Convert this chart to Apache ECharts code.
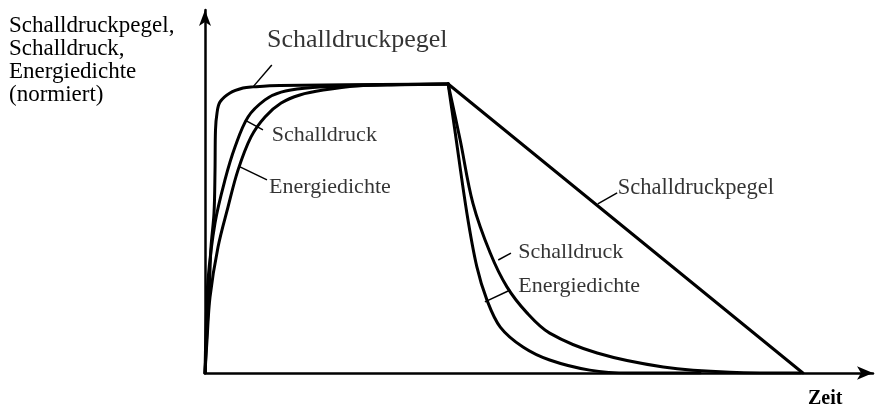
<!DOCTYPE html>
<html>
<head>
<meta charset="utf-8" />
<title>Schalldruck</title>
<script src="https://cdn.jsdelivr.net/npm/echarts@6/dist/echarts.min.js"></script>
<style>
	html, body { margin: 0; padding: 0; background: #fff; }
	#chart { width: 875px; height: 408px; }
</style>
</head>
<body>
<div id="chart"></div>
<script type="text/javascript">
	// Zeit (normiert, 0..100) und Pegel/Druck/Energiedichte (normiert, Plateau = 1)
	var pegelAnstieg = [[0,0],[0.3,0.149],[0.6,0.263],[0.9,0.436],[1.35,0.554],[1.5,0.702],[1.57,0.841],[1.8,0.9],[2.25,0.938],[3.74,0.969],[5.69,0.986],[7.19,0.99],[11.2,0.995],[36.4,1]];
	var druckAnstieg = [[0,0],[0.15,0.149],[0.45,0.322],[1.5,0.519],[2.99,0.668],[4.49,0.782],[6.44,0.886],[8.98,0.945],[11.4,0.972],[15.3,0.986],[20.2,0.993],[26.2,0.997],[36.4,1]];
	var energieAnstieg = [[0,0],[0.3,0.114],[0.75,0.263],[1.95,0.436],[3.44,0.574],[4.94,0.702],[6.89,0.817],[8.98,0.886],[11.4,0.934],[14.2,0.962],[17.7,0.979],[22.8,0.993],[29.2,0.997],[36.4,1]];

	var pegelAbfall = [[36.4,1],[89.5,0]];
	var druckAbfall = [[36.4,1],[38.2,0.806],[40.1,0.588],[42.7,0.415],[45.2,0.298],[48.2,0.208],[51.6,0.138],[58.7,0.069],[68.6,0.021],[78.6,0.003],[89.1,0]];
	var energieAbfall = [[36.4,1],[37.4,0.841],[39.2,0.554],[40.7,0.367],[42.2,0.253],[44.2,0.159],[47.6,0.09],[51.6,0.045],[57.6,0.01],[63.6,0],[74.1,0]];

	// Beschriftungen: Text, Punkt auf der Kurve, Ende der Hinweislinie, Textanfang
	var beschriftungen = [
		{text: 'Schalldruckpegel', kurve: [7.19,0.99], ende: [10.0,1.066], pos: [9.28,1.152], size: 26},
		{text: 'Schalldruck', kurve: [5.99,0.875], ende: [8.68,0.841], pos: [10.0,0.824], size: 22},
		{text: 'Energiedichte', kurve: [5.24,0.713], ende: [9.28,0.668], pos: [9.58,0.644], size: 22},
		{text: 'Schalldruckpegel', kurve: [58.8,0.585], ende: [61.7,0.623], pos: [61.8,0.64], size: 22.5},
		{text: 'Schalldruck', kurve: [43.9,0.391], ende: [45.8,0.415], pos: [46.9,0.419], size: 22},
		{text: 'Energiedichte', kurve: [41.9,0.246], ende: [45.7,0.287], pos: [46.9,0.301], size: 22}
	];

	var serif = '"Liberation Serif", "DejaVu Serif", serif';

	$chart();

	function $chart(){
		var myChart = echarts.init(document.getElementById('chart'));

		function kurve(name, data, smooth){
			return {
				name: name,
				type: 'line',
				data: data,
				smooth: smooth,
				showSymbol: false,
				symbol: 'none',
				silent: true,
				animation: false,
				lineStyle: {color: '#000', width: 3, cap: 'round', join: 'round'}
			};
		}

		var series = [
			kurve('Schalldruckpegel', pegelAnstieg, 0.35),
			kurve('Schalldruck', druckAnstieg, 0.35),
			kurve('Energiedichte', energieAnstieg, 0.35),
			kurve('Schalldruckpegel', pegelAbfall, false),
			kurve('Schalldruck', druckAbfall, 0.35),
			kurve('Energiedichte', energieAbfall, 0.35)
		];

		beschriftungen.forEach(function(b){
			series.push({
				type: 'line',
				data: [b.kurve, b.ende],
				showSymbol: false,
				symbol: 'none',
				silent: true,
				animation: false,
				lineStyle: {color: '#000', width: 1.5}
			});
			series.push({
				type: 'scatter',
				data: [b.pos],
				symbolSize: 0,
				silent: true,
				animation: false,
				label: {
					show: true,
					position: 'right',
					distance: 0,
					formatter: b.text,
					color: '#000',
					fontFamily: serif,
					fontSize: b.size
				}
			});
		});

		var option = {
			backgroundColor: '#fff',
			animation: false,
			title: [
				{
					text: 'Schalldruckpegel,\nSchalldruck,\nEnergiedichte\n(normiert)',
					left: 9, top: 14,
					padding: 0,
					textStyle: {fontFamily: serif, fontSize: 23, fontWeight: 'normal', lineHeight: 23, color: '#000'}
				},
				{
					text: 'Zeit',
					left: 808, top: 389,
					padding: 0,
					textStyle: {fontFamily: serif, fontSize: 20, fontWeight: 'bold', color: '#000'}
				}
			],
			grid: {left: 205, right: 2, top: 10, bottom: 35},
			xAxis: {
				type: 'value',
				min: 0, max: 100,
				axisLine: {show: true, symbol: ['none', 'arrow'], symbolSize: [10, 16], lineStyle: {color: '#000', width: 2.5}},
				axisTick: {show: false},
				axisLabel: {show: false},
				splitLine: {show: false}
			},
			yAxis: {
				type: 'value',
				min: 0, max: 1.256,
				axisLine: {show: true, symbol: ['none', 'arrow'], symbolSize: [9, 16], lineStyle: {color: '#000', width: 2.5}},
				axisTick: {show: false},
				axisLabel: {show: false},
				splitLine: {show: false}
			},
			series: series
		};
		myChart.setOption(option);
	}
</script>
</body>
</html>
